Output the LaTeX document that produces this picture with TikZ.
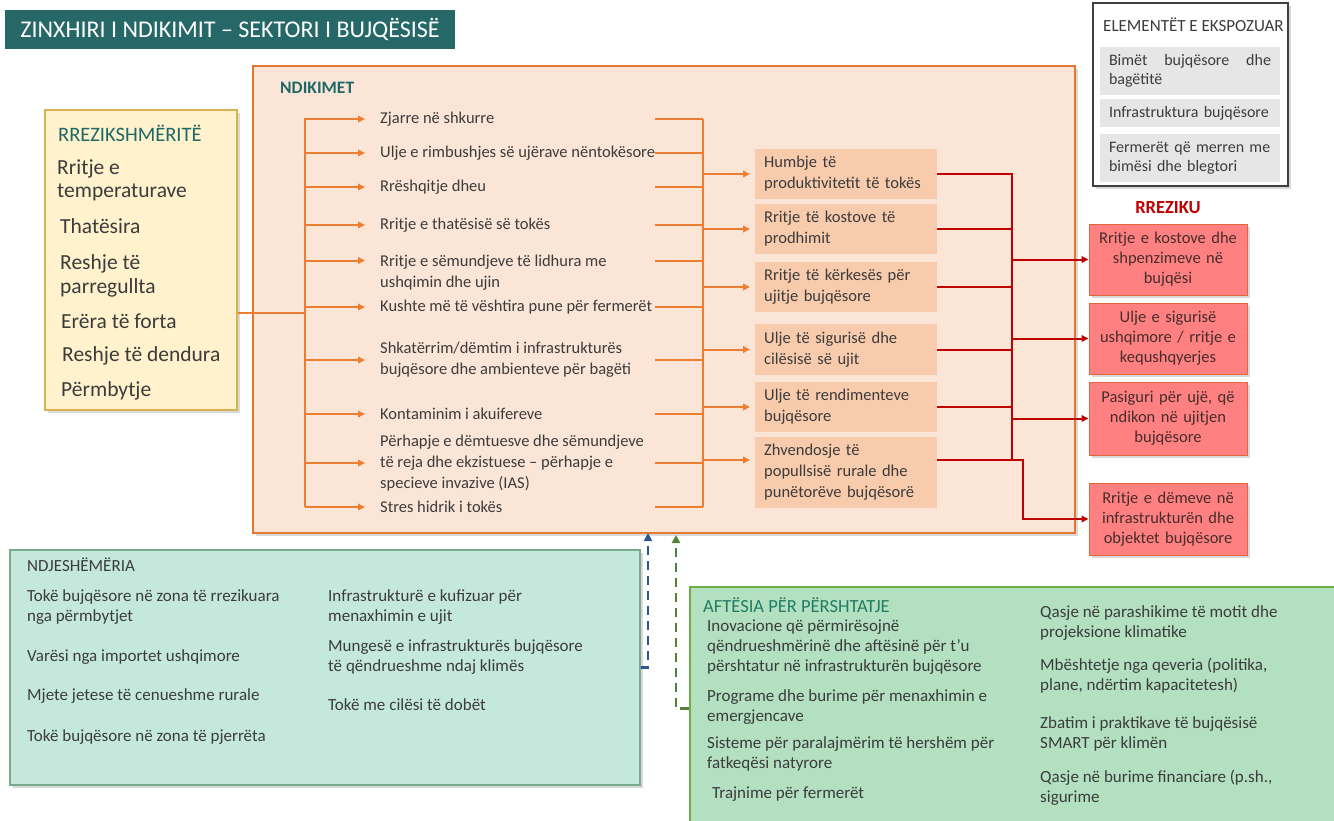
\documentclass[tikz,border=0pt]{standalone}
\usepackage{fontspec}
\setmainfont{Carlito}
\usetikzlibrary{arrows.meta,shadows}

\definecolor{titleTeal}{RGB}{38,103,103}
\definecolor{headTeal}{RGB}{31,104,104}
\definecolor{impactFill}{RGB}{251,229,214}
\definecolor{impactLine}{RGB}{226,120,50}
\definecolor{impactArrow}{RGB}{237,125,49}
\definecolor{midFill}{RGB}{248,203,173}
\definecolor{riskRed}{RGB}{192,0,0}
\definecolor{riskFill}{RGB}{255,128,128}
\definecolor{riskLine}{RGB}{230,100,60}
\definecolor{riskText}{RGB}{70,45,45}
\definecolor{hazardFill}{RGB}{255,242,204}
\definecolor{hazardLine}{RGB}{214,178,80}
\definecolor{expFill}{RGB}{231,230,230}
\definecolor{expLine}{RGB}{64,64,64}
\definecolor{sensFill}{RGB}{197,232,220}
\definecolor{sensLine}{RGB}{120,170,140}
\definecolor{adaptFill}{RGB}{178,224,192}
\definecolor{adaptLine}{RGB}{112,173,71}
\definecolor{adaptHead}{RGB}{34,125,100}
\definecolor{blueDash}{RGB}{47,85,151}
\definecolor{greenDash}{RGB}{84,130,53}
\definecolor{textGray}{RGB}{60,60,60}

\newcommand{\bodyfont}{\fontsize{16.5}{21}\selectfont}
\newcommand{\lowfont}{\fontsize{17}{20}\selectfont}
\newcommand{\bigfont}{\fontsize{21.5}{23.5}\selectfont}

\begin{document}
\begin{tikzpicture}
[x=1pt,y=-1pt,
  every node/.append style={text=textGray},
  shadowDecorate/.style={drop shadow={shadow xshift=2.5pt,shadow yshift=-2.5pt,opacity=0.3}},
  orangeLine/.style={draw=impactArrow,line width=2pt},
  orangeArrow/.style={orangeLine,-{Triangle[length=7pt,width=6.5pt]}},
  redLine/.style={draw=riskRed,line width=2pt},
  redArrow/.style={redLine,-{Triangle[length=7pt,width=6.5pt]}},
  dashLink/.style={line width=2.6pt,dash pattern=on 9pt off 6pt,-{Triangle[length=8pt,width=8pt]}},
  impactText/.style={anchor=west,inner sep=0pt,align=left,font=\bodyfont},
  midBox/.style={anchor=west,fill=midFill,text width=164pt,inner xsep=9pt,inner ysep=0pt,
    align=left,font=\bodyfont},
  riskBox/.style={fill=riskFill,draw=riskLine,line width=1pt,text=riskText,text width=144pt,
    inner xsep=7pt,inner ysep=0pt,align=center,minimum height=71pt,font=\fontsize{16.5}{20}\selectfont,shadowDecorate},
  hazardText/.style={anchor=west,inner sep=0pt,align=left,font=\bigfont},
  expItem/.style={fill=expFill,text width=162pt,inner xsep=9pt,inner ysep=0pt,align=left,
    font=\fontsize{16}{19.5}\selectfont},
  lowText/.style={anchor=west,inner sep=0pt,align=left,font=\lowfont}]
\useasboundingbox (0,0) rectangle (1334,820);

%% boxes
\node (title) at (230,29.5) [fill=titleTeal,text=white,minimum width=450pt,minimum height=39pt,
  inner sep=0pt,font=\fontsize{24}{28}\selectfont] {ZINXHIRI I NDIKIMIT – SEKTORI I BUJQËSISË};
\node (impactBox) at (664,299.5) [draw=impactLine,fill=impactFill,line width=1.2pt,
  minimum width=822pt,minimum height=467pt,shadowDecorate] {};
\node (hazard) at (141,260) [draw=hazardLine,fill=hazardFill,line width=1.2pt,
  minimum width=192pt,minimum height=300pt,shadowDecorate] {};
\node (expBox) at (1190.5,94.5) [draw=expLine,fill=white,line width=1.2pt,
  minimum width=195pt,minimum height=183pt,shadowDecorate] {};
\node (sens) at (325,667.5) [draw=sensLine,fill=sensFill,line width=1.2pt,
  minimum width=630pt,minimum height=235pt,shadowDecorate] {};
\node (adapt) at (1017.5,708.5) [draw=adaptLine,fill=adaptFill,line width=1.2pt,
  minimum width=655pt,minimum height=243pt] {};

%% headings
\node (impactHead) at (280,88) [anchor=west,inner sep=0pt,text=headTeal,
  font=\fontsize{17.5}{20}\selectfont\bfseries] {NDIKIMET};
\node (hazardHead) at (58,133) [anchor=west,inner sep=0pt,text=headTeal,
  font=\fontsize{20.5}{24}\selectfont] {RREZIKSHMËRITË};
\node (riskHead) at (1168,208) [inner sep=0pt,text=riskRed,
  font=\fontsize{18.5}{22}\selectfont\bfseries] {RREZIKU};
\node (expHead) at (1103,25) [anchor=west,inner sep=0pt,font=\fontsize{17}{20}\selectfont]
  {ELEMENTËT E EKSPOZUAR};
\node (sensHead) at (27,565) [anchor=west,inner sep=0pt,font=\fontsize{17}{20}\selectfont]
  {NDJESHËMËRIA};
\node (adaptHead) at (703,605) [anchor=west,inner sep=0pt,text=adaptHead,
  font=\fontsize{18.5}{22}\selectfont] {AFTËSIA PËR PËRSHTATJE};

%% hazards
\foreach \nodename/\x/\y/\txt in {
  h1/57/180.5/{Rritje e\\temperaturave},
  h2/60/226/{Thatësira},
  h3/60/276/{Reshje të\\parregullta},
  h4/61/321/{Erëra të forta},
  h5/62/356/{Reshje të dendura},
  h6/61/391/{Përmbytje}}
{
  \node (\nodename) at (\x,\y) [hazardText] {\txt};
}

%% exposed elements
\node (e1) at (1190,71) [expItem,align=justify,minimum height=48pt] {Bimët bujqësore dhe bagëtitë};
\node (e2) at (1190,113) [expItem,minimum height=28pt] {Infrastruktura bujqësore};
\node (e3) at (1190,158) [expItem,minimum height=48pt] {Fermerët që merren me\\bimësi dhe blegtori};

%% buses
\coordinate (busL) at (305,118);
\coordinate (busLend) at (305,507);
\coordinate (busJoin) at (305,313);
\coordinate (outX) at (655,119);
\coordinate (busR) at (703,119);
\coordinate (busRend) at (703,507);
\coordinate (redBus) at (1012,173);
\coordinate (redBusEnd) at (1012,460);
\coordinate (redKnee) at (1023,490);
\coordinate (sensIn) at (648,533);
\coordinate (adaptIn) at (676,535);

\draw[orangeLine] (busL) -- (busLend);
\draw[orangeLine] (hazard.east |- busJoin) -- (busJoin);
\draw[orangeLine] (busR) -- (busRend);

%% impacts
\foreach \nodename/\y/\dy/\txt in {
  i1/119/0/{Zjarre në shkurre},
  i2/153/0/{Ulje e rimbushjes së ujërave nëntokësore},
  i3/187/0/{Rrëshqitje dheu},
  i4/225/0/{Rritje e thatësisë së tokës},
  i5/272.5/12/{Rritje e sëmundjeve të lidhura me\\ushqimin dhe ujin},
  i6/307/0/{Kushte më të vështira pune për fermerët},
  i7/360/0/{Shkatërrim/dëmtim i infrastrukturës\\bujqësore dhe ambienteve për bagëti},
  i8/414/0/{Kontaminim i akuifereve},
  i9/463/0/{Përhapje e dëmtuesve dhe sëmundjeve\\të reja dhe ekzistuese – përhapje e\\specieve invazive (IAS)},
  i10/507/0/{Stres hidrik i tokës}}
{
  \node (\nodename) at (380,\y) [impactText] {\txt};
  \coordinate (\nodename-in) at ([yshift=\dy pt]\nodename.west);
  \draw[orangeArrow,shorten >=15pt] (busL |- \nodename-in) -- (\nodename-in);
  \draw[orangeLine] (outX |- \nodename-in) -- (busR |- \nodename-in);
}

%% consequences
\foreach \nodename/\y/\h/\dy/\txt in {
  m1/174/50/0/{Humbje të\\produktivitetit të tokës},
  m2/229/50/0/{Rritje të kostove të\\prodhimit},
  m3/287/50/0/{Rritje të kërkesës për\\ujitje bujqësore},
  m4/349.5/51/0/{Ulje të sigurisë dhe\\cilësisë së ujit},
  m5/407/50/0/{Ulje të rendimenteve\\bujqësore},
  m6/472.5/71/12.5/{Zhvendosje të\\popullsisë rurale dhe\\punëtorëve bujqësorë}}
{
  \node (\nodename) at (755,\y) [midBox,minimum height=\h pt] {\txt};
  \coordinate (\nodename-in) at ([yshift=\dy pt]\nodename.west);
  \coordinate (\nodename-out) at ([yshift=\dy pt]\nodename.east);
  \draw[orangeArrow,shorten >=5pt] (busR |- \nodename-in) -- (\nodename-in);
}

%% risks
\node (r1) at (1168,259.5) [riskBox] {Rritje e kostove dhe\\shpenzimeve në\\bujqësi};
\node (r2) at (1168,338.5) [riskBox] {Ulje e sigurisë\\ushqimore / rritje e\\kequshqyerjes};
\node (r3) at (1168,418.5) [riskBox,minimum height=73pt] {Pasiguri për ujë, që\\ndikon në ujitjen\\bujqësore};
\node (r4) at (1168,519) [riskBox,minimum height=72pt] {Rritje e dëmeve në\\infrastrukturën dhe\\objektet bujqësore};

\foreach \n in {m1,m2,m3,m4,m5}
  \draw[redLine] (\n-out) -- (redBus |- \n-out);
\draw[redLine] (redBus) -- (redBusEnd);
\foreach \n in {r1,r2,r3}
  \draw[redArrow] (redBus |- \n.west) -- (\n.west);
\draw[redArrow] (m6-out) -| (redKnee) |- (r4.west);

%% sensitivity
\foreach \nodename/\x/\y/\txt in {
  s1/27/607.5/{Tokë bujqësore në zona të rrezikuara\\nga përmbytjet},
  s2/27/657/{Varësi nga importet ushqimore},
  s3/27/696/{Mjete jetese të cenueshme rurale},
  s4/27/737/{Tokë bujqësore në zona të pjerrëta},
  s5/328/607.5/{Infrastrukturë e kufizuar për\\menaxhimin e ujit},
  s6/328/657/{Mungesë e infrastrukturës bujqësore\\të qëndrueshme ndaj klimës},
  s7/328/705/{Tokë me cilësi të dobët}}
{
  \node (\nodename) at (\x,\y) [lowText] {\txt};
}

%% adaptive capacity
\foreach \nodename/\x/\y/\txt in {
  a1/707/647/{Inovacione që përmirësojnë\\qëndrueshmërinë dhe aftësinë për t’u\\përshtatur në infrastrukturën bujqësore},
  a2/707/707/{Programe dhe burime për menaxhimin e\\emergjencave},
  a3/707/753.5/{Sisteme për paralajmërim të hershëm për\\fatkeqësi natyrore},
  a4/712/794/{Trajnime për fermerët},
  a5/1040/623/{Qasje në parashikime të motit dhe\\projeksione klimatike},
  a6/1040/675.5/{Mbështetje nga qeveria (politika,\\plane, ndërtim kapacitetesh)},
  a7/1040/733.5/{Zbatim i praktikave të bujqësisë\\SMART për klimën},
  a8/1040/787.5/{Qasje në burime financiare (p.sh.,\\sigurime}}
{
  \node (\nodename) at (\x,\y) [lowText] {\txt};
}

%% dashed links
\draw[dashLink,draw=blueDash] (sens.east) -| (sensIn);
\draw[dashLink,draw=greenDash] (adapt.west) -| (adaptIn);
\end{tikzpicture}
\end{document}
